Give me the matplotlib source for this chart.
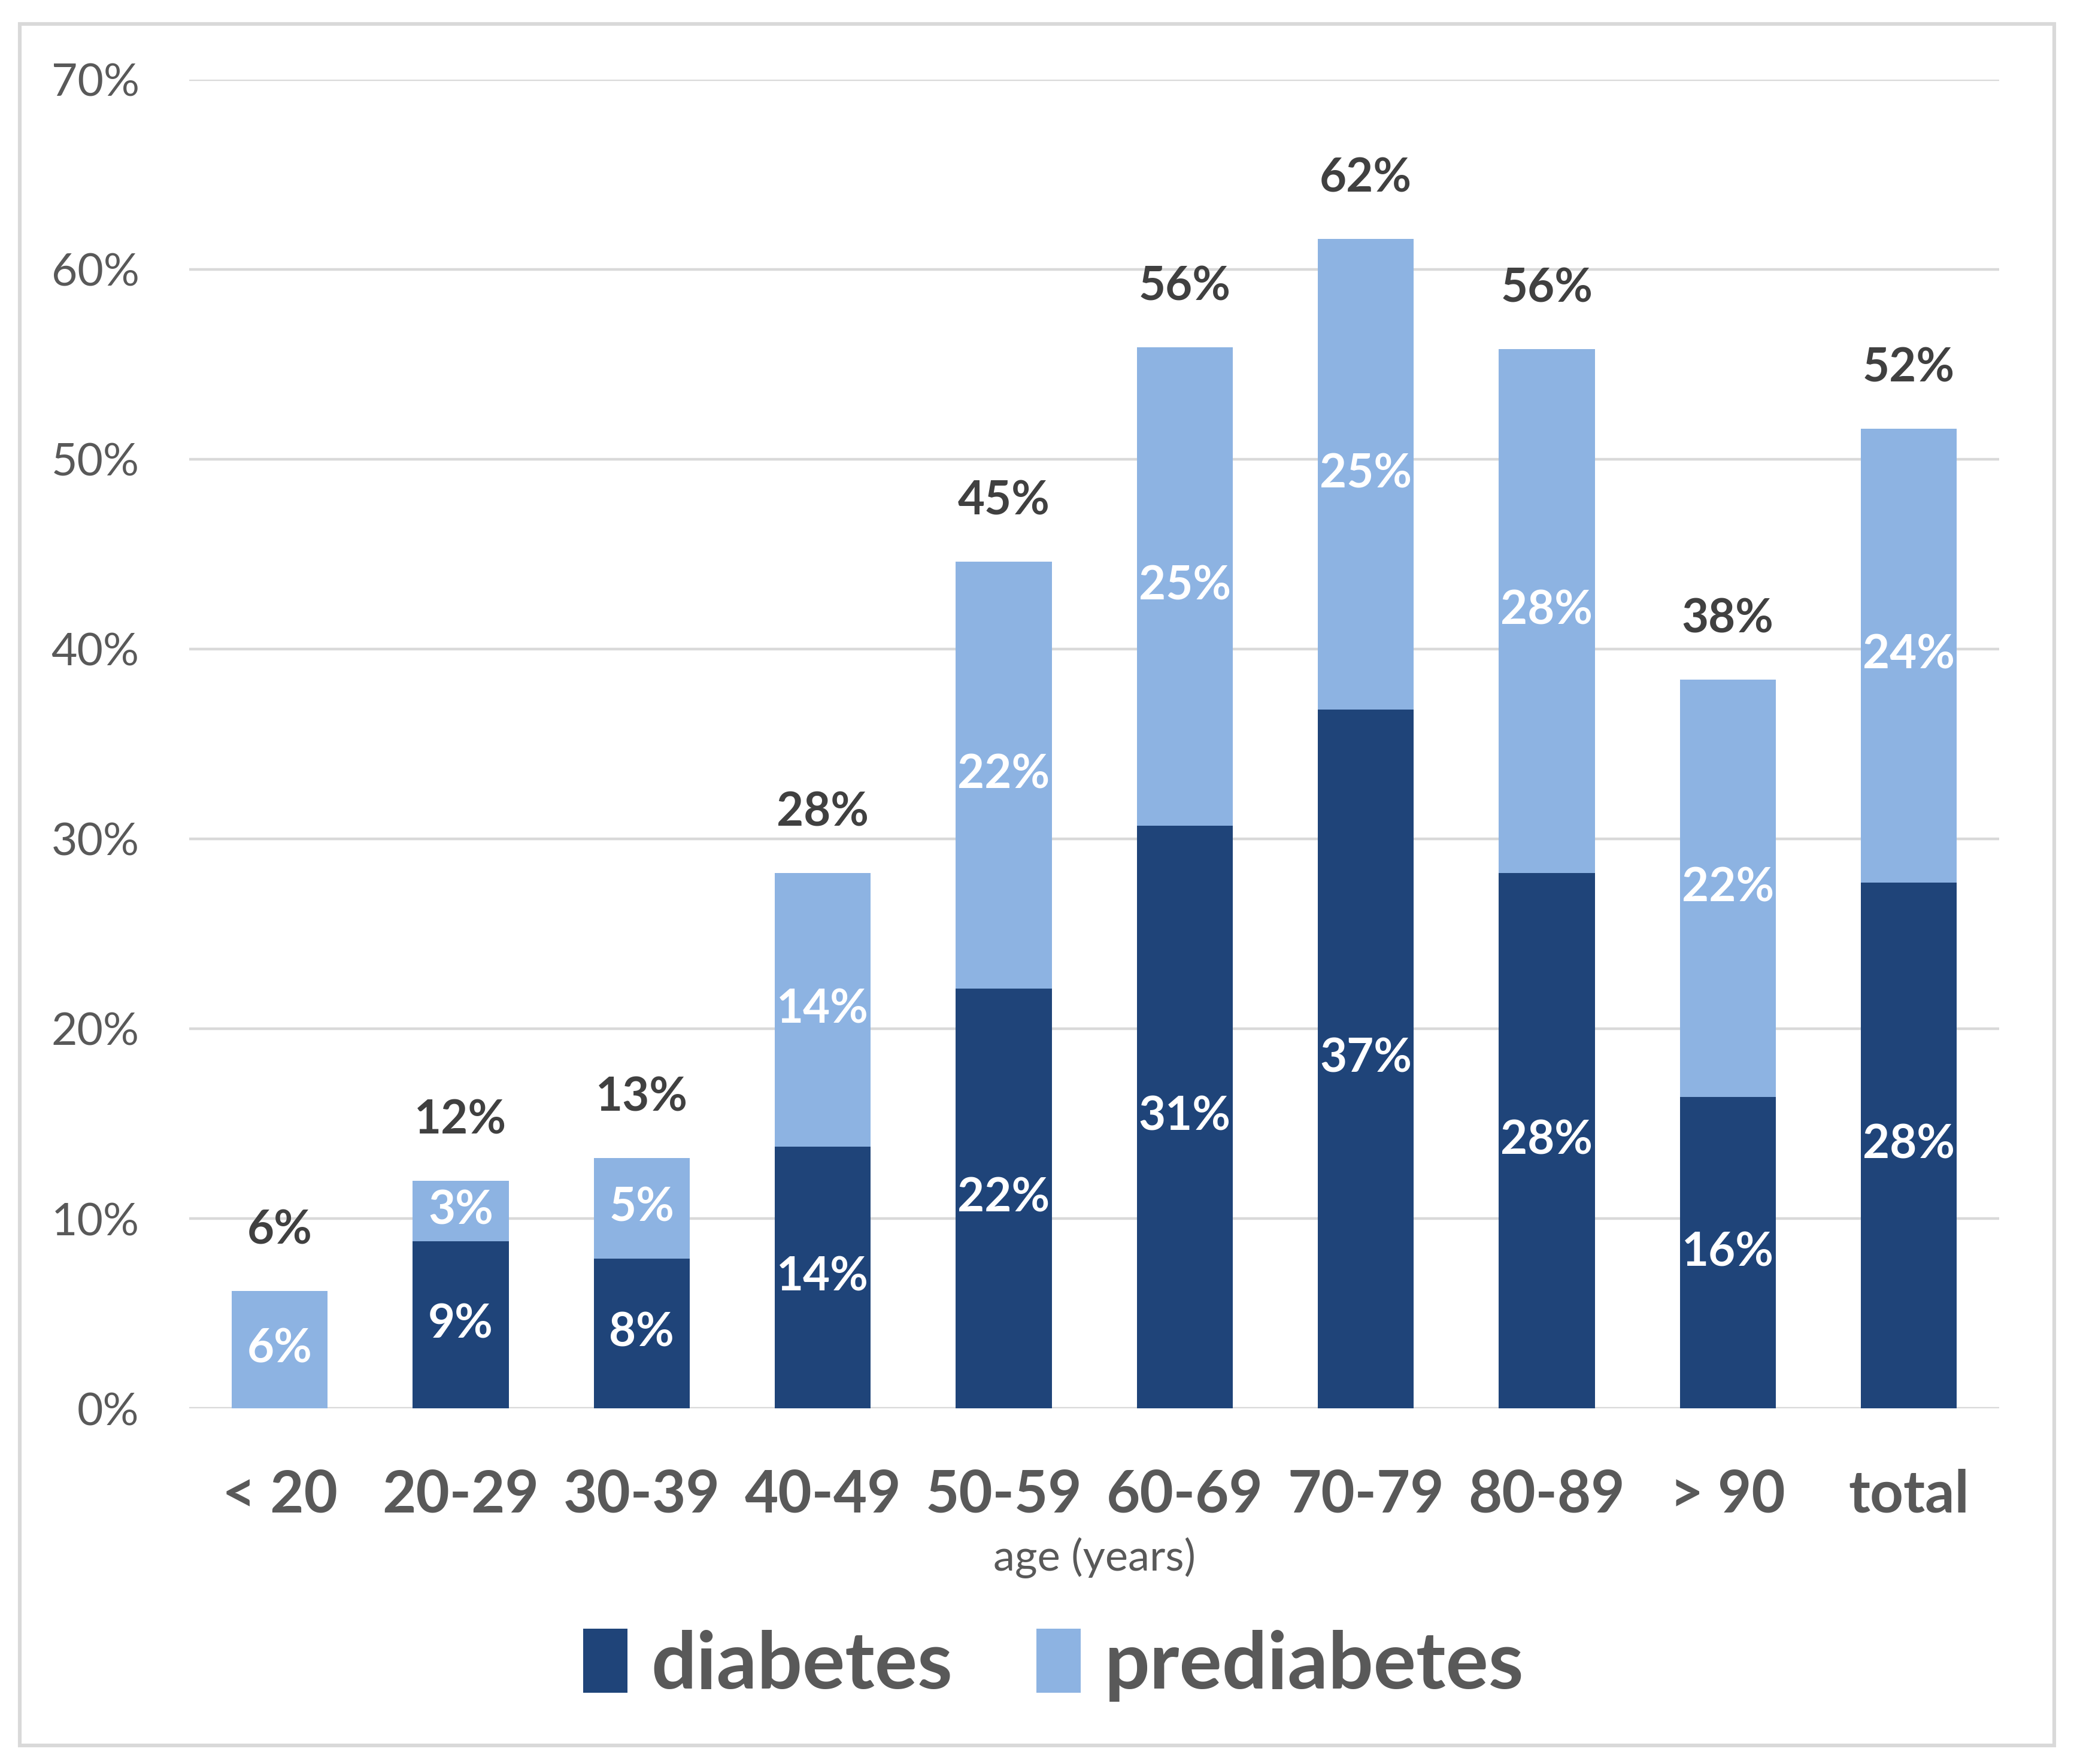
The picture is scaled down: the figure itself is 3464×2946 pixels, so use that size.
import matplotlib
matplotlib.use("Agg")
import matplotlib.pyplot as plt
from matplotlib.patches import Rectangle
from matplotlib.ticker import PercentFormatter

plt.rcParams['font.family'] = ['Lato', 'DejaVu Sans']

# values (% of group)
age_groups = ['< 20', '20-29', '30-39', '40-49', '50-59', '60-69', '70-79', '80-89', '> 90', 'total']
diabetes = [0.0, 8.8, 7.9, 13.8, 22.1, 30.7, 36.8, 28.2, 16.4, 27.7]
prediabetes = [6.2, 3.2, 5.3, 14.4, 22.5, 25.2, 24.8, 27.6, 22.0, 23.9]

dark = '#1F4479'
light = '#8DB3E2'

fig = plt.figure(figsize=(17.32, 14.73), dpi=200)
ax = fig.add_axes([0.0912, 0.2016, 0.8728, 0.7534])

x = list(range(len(age_groups)))
totals = [d + p for d, p in zip(diabetes, prediabetes)]
w = 0.53
b1 = ax.bar(x, diabetes, w, color=dark, label='diabetes', zorder=3)
b2 = ax.bar(x, prediabetes, w, bottom=diabetes, color=light, label='prediabetes', zorder=3)

# labels inside segments + totals on top
for i in x:
    if diabetes[i] > 0:
        ax.text(i, diabetes[i] / 2, f'{round(diabetes[i])}%', ha='center', va='center',
                color='white', fontsize=28, fontweight='bold', zorder=4)
    ax.text(i, diabetes[i] + prediabetes[i] / 2, f'{round(prediabetes[i])}%', ha='center',
            va='center', color='white', fontsize=28, fontweight='bold', zorder=4)
    ax.annotate(f'{round(totals[i])}%', (i, totals[i]), xytext=(0, 36), textcoords='offset points',
                ha='center', va='center', color='#404040', fontsize=28, fontweight='bold')

ax.set_xlim(-0.5, 9.5)
ax.set_ylim(0, 70)
ax.set_yticks(range(0, 71, 10))
ax.yaxis.set_major_formatter(PercentFormatter(decimals=0))
ax.set_xticks(x)
ax.set_xticklabels(age_groups, fontsize=35, fontweight='bold', color='#595959')
ax.tick_params(axis='x', length=0, pad=36)
ax.tick_params(axis='y', length=0, pad=30, labelsize=27, labelcolor='#595959')
ax.grid(axis='y', color='#D9D9D9', linewidth=1.6, zorder=0)
for s in ax.spines.values():
    s.set_visible(False)

fig.text(0.5276, 0.117, 'age (years)', ha='center', va='center', fontsize=26, color='#595959')

leg = fig.legend(handles=[b1, b2], loc='center', bbox_to_anchor=(0.508, 0.056), ncol=2,
                 frameon=False, handlelength=0.55, handleheight=0.85, handletextpad=0.3,
                 columnspacing=1.05, prop={'size': 48, 'weight': 'bold'})
for t in leg.get_texts():
    t.set_color('#595959')

fig.patches.append(Rectangle((0.0096, 0.0105), 0.9808, 0.976, transform=fig.transFigure,
                             fill=False, edgecolor='#D9D9D9', linewidth=2.2))

fig.savefig('out.png', dpi=200, facecolor='white')
